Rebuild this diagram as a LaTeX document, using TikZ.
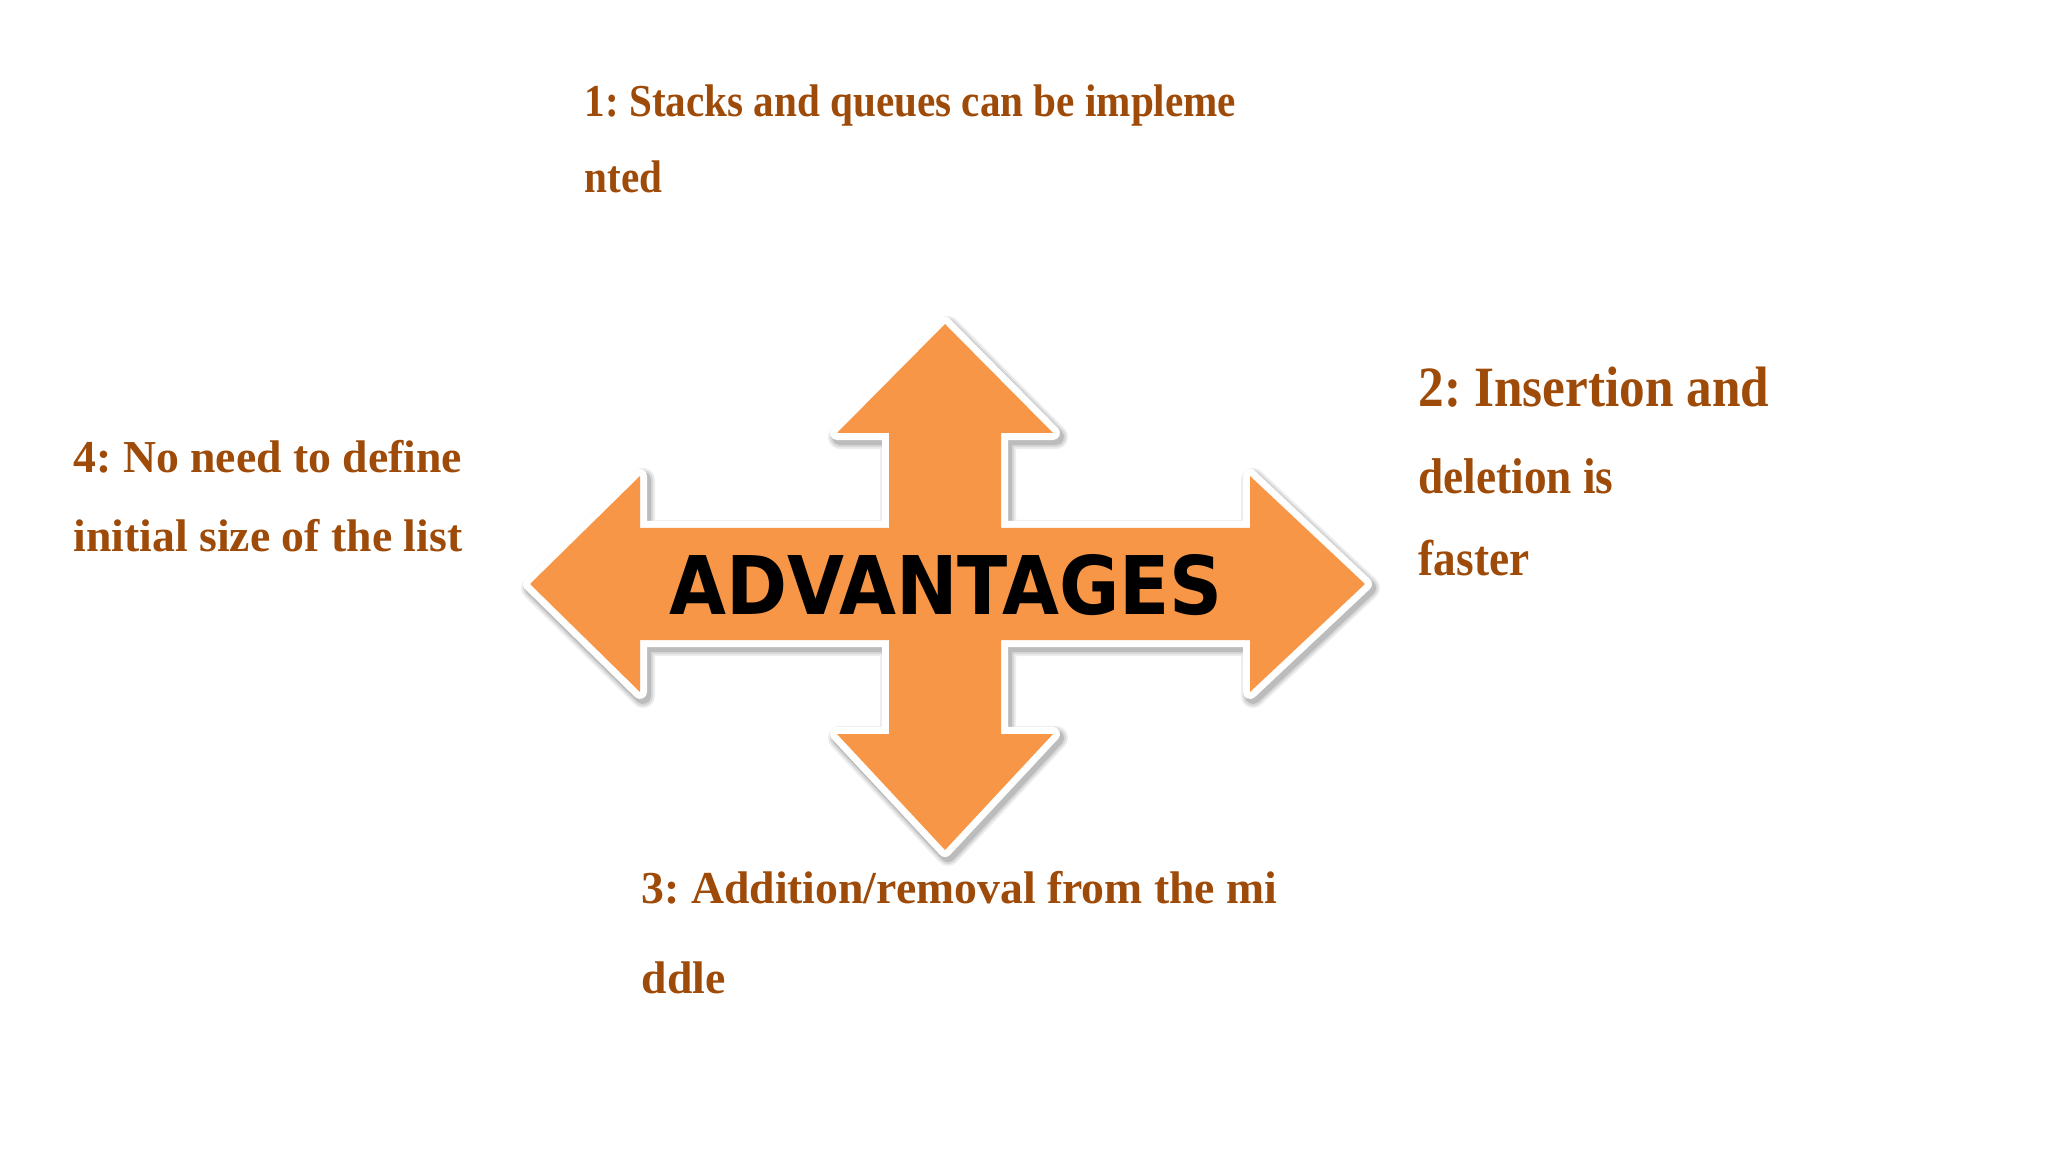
\documentclass[tikz,border=0pt]{standalone}
\usepackage{fontspec}
\setmainfont{Liberation Serif}
\newfontfamily\serifN{Liberation Serif}
\newfontfamily\serifC[FakeStretch=0.9]{Liberation Serif}
\newfontfamily\advfont[FakeStretch=0.91]{DejaVu Sans}
\definecolor{txtbrown}{RGB}{158,75,10}
\definecolor{arroworange}{RGB}{247,150,70}
\frenchspacing
\begin{document}
\frenchspacing
\begin{tikzpicture}[x=0.01cm,y=-0.01cm,
  lbl/.style={anchor=base west, inner sep=0pt, text=txtbrown, font=\bfseries},
  sz13/.style={font=\frenchspacing\serifN\bfseries\fontsize{13pt}{15pt}\selectfont},
  sz13c/.style={font=\frenchspacing\serifC\bfseries\fontsize{13pt}{15pt}\selectfont},
  sz16c/.style={font=\frenchspacing\serifC\bfseries\fontsize{16.2pt}{18pt}\selectfont},
  sz14c/.style={font=\frenchspacing\serifC\bfseries\fontsize{14.3pt}{16pt}\selectfont},
  advstyle/.style={inner sep=0pt, font=\advfont\bfseries\fontsize{23pt}{25pt}\selectfont, text=black}]
\useasboundingbox (0,0) rectangle (2048,1152);
\fill[white] (0,0) rectangle (2048,1152);

\def\arrowpath{(945,324) -- (1053,433) -- (1001,433) -- (1001,528) -- (1250,528) -- (1250,476) -- (1365,584) -- (1250,692) -- (1250,640) -- (1001,640) -- (1001,734) -- (1053,734) -- (945,850) -- (837,734) -- (889,734) -- (889,640) -- (640,640) -- (640,692) -- (530,584) -- (640,476) -- (640,528) -- (889,528) -- (889,433) -- (837,433) -- cycle}

% soft shadow
\begin{scope}[shift={(3,4)}]
  \draw[black, opacity=0.07, line width=0.24cm, line join=round] \arrowpath;
  \draw[black, opacity=0.09, line width=0.20cm, line join=round] \arrowpath;
  \draw[black, opacity=0.12, line width=0.16cm, line join=round] \arrowpath;
\end{scope}
% white border
\draw[white, line width=0.14cm, line join=round] \arrowpath;
% orange body
\fill[arroworange] \arrowpath;

\node[advstyle] (adv) at (946,585) {ADVANTAGES};

\node[lbl, sz13c] (t1a) at (584,117) {1: Stacks and queues can be impleme};
\node[lbl, sz13c] (t1b) at (584,193) {nted};

\node[lbl, sz16c] (t2a) at (1418,407) {2: Insertion and};
\node[lbl, sz14c] (t2b) at (1418,494) {deletion is};
\node[lbl, sz14c] (t2c) at (1418,575) {faster};

\node[lbl, sz13] (t3a) at (641,903) {3: Addition/removal from the mi};
\node[lbl, sz13] (t3b) at (641,993) {ddle};

\node[lbl, sz13] (t4a) at (73,473) {4: No need to define};
\node[lbl, sz13] (t4b) at (73,552) {initial size of the list};
\end{tikzpicture}
\end{document}
